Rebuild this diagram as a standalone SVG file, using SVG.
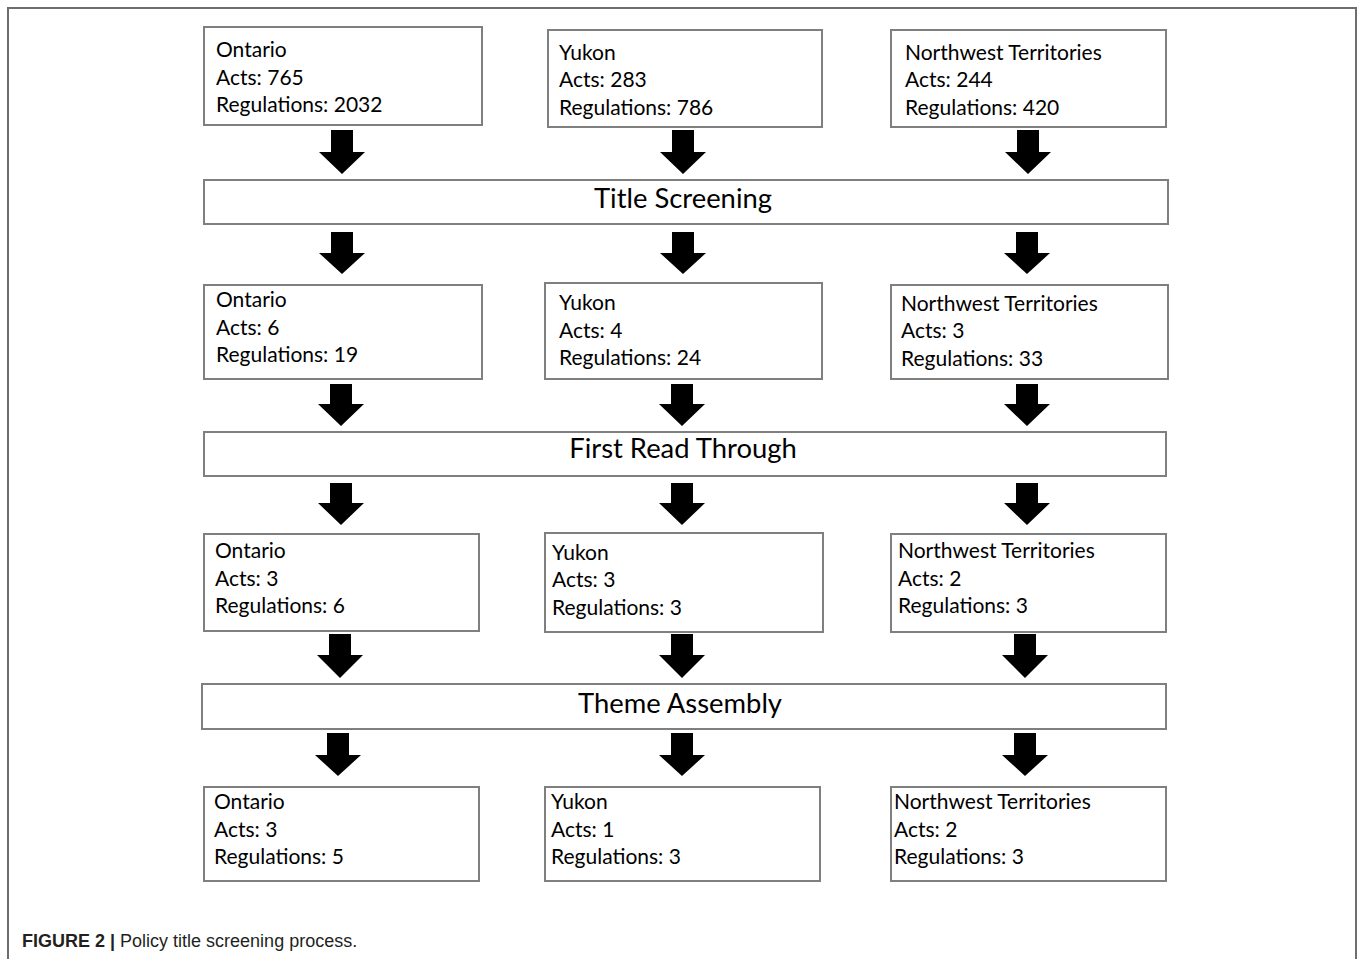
<svg xmlns="http://www.w3.org/2000/svg" width="1358" height="959" viewBox="0 0 1358 959">
<style>
.frame{fill:none;stroke:#6d6d6d;stroke-width:2}
.box{fill:#fff;stroke:#7f7f7f;stroke-width:2}
.t{font-family:Lato,"Open Sans",sans-serif;font-size:21px;fill:#000}
.h{font-family:Lato,"Open Sans",sans-serif;font-size:27.4px;fill:#000;text-anchor:middle}
.arr{fill:#000}
.cap{font-family:"Liberation Sans",Arial,sans-serif;font-size:18px;fill:#231f20}
</style>
<rect width="1358" height="959" fill="#fff"/>
<path class="frame" d="M8,960 V8 H1356 V960"/>

<g id="connectors">
<path class="arr" d="M331,130 H353 V152 H365 L342,174 L319,152 H331 Z"/>
<path class="arr" d="M672,130 H694 V152 H706 L683,174 L660,152 H672 Z"/>
<path class="arr" d="M1017,130 H1039 V152 H1051 L1028,174 L1005,152 H1017 Z"/>

<path class="arr" d="M331,232 H353 V253 H365 L342,274 L319,253 H331 Z"/>
<path class="arr" d="M672,232 H694 V253 H706 L683,274 L660,253 H672 Z"/>
<path class="arr" d="M1016,232 H1038 V253 H1050 L1027,274 L1004,253 H1016 Z"/>

<path class="arr" d="M330,384 H352 V404 H364 L341,426 L318,404 H330 Z"/>
<path class="arr" d="M671,384 H693 V404 H705 L682,426 L659,404 H671 Z"/>
<path class="arr" d="M1016,384 H1038 V404 H1050 L1027,426 L1004,404 H1016 Z"/>

<path class="arr" d="M330,483 H352 V503 H364 L341,525 L318,503 H330 Z"/>
<path class="arr" d="M671,483 H693 V503 H705 L682,525 L659,503 H671 Z"/>
<path class="arr" d="M1016,483 H1038 V503 H1050 L1027,525 L1004,503 H1016 Z"/>

<path class="arr" d="M329,634 H351 V655 H363 L340,678 L317,655 H329 Z"/>
<path class="arr" d="M671,634 H693 V655 H705 L682,678 L659,655 H671 Z"/>
<path class="arr" d="M1014,634 H1036 V655 H1048 L1025,678 L1002,655 H1014 Z"/>

<path class="arr" d="M327,733 H349 V755 H361 L338,776 L315,755 H327 Z"/>
<path class="arr" d="M671,733 H693 V755 H705 L682,776 L659,755 H671 Z"/>
<path class="arr" d="M1014,733 H1036 V755 H1048 L1025,776 L1002,755 H1014 Z"/>
</g>

<g id="on1"><rect class="box" x="204" y="27" width="278" height="98"/>
<text class="t" x="216" y="57">Ontario</text><text class="t" x="216" y="85">Acts: 765</text><text class="t" x="216" y="112">Regulations: 2032</text></g>
<g id="yk1"><rect class="box" x="548" y="30" width="274" height="97"/>
<text class="t" x="559" y="60">Yukon</text><text class="t" x="559" y="87">Acts: 283</text><text class="t" x="559" y="115">Regulations: 786</text></g>
<g id="nw1"><rect class="box" x="891" y="30" width="275" height="97"/>
<text class="t" x="905" y="60">Northwest Territories</text><text class="t" x="905" y="87">Acts: 244</text><text class="t" x="905" y="115">Regulations: 420</text></g>

<g id="title-screening"><rect class="box" x="204" y="180" width="964" height="44"/>
<text class="h" x="683" y="208">Title Screening</text></g>

<g id="on2"><rect class="box" x="204" y="285" width="278" height="94"/>
<text class="t" x="216" y="307">Ontario</text><text class="t" x="216" y="335">Acts: 6</text><text class="t" x="216" y="362">Regulations: 19</text></g>
<g id="yk2"><rect class="box" x="545" y="283" width="277" height="96"/>
<text class="t" x="559" y="310">Yukon</text><text class="t" x="559" y="338">Acts: 4</text><text class="t" x="559" y="365">Regulations: 24</text></g>
<g id="nw2"><rect class="box" x="891" y="285" width="277" height="94"/>
<text class="t" x="901" y="311">Northwest Territories</text><text class="t" x="901" y="338">Acts: 3</text><text class="t" x="901" y="366">Regulations: 33</text></g>

<g id="first-read"><rect class="box" x="204" y="432" width="962" height="44"/>
<text class="h" x="683" y="458">First Read Through</text></g>

<g id="on3"><rect class="box" x="204" y="534" width="275" height="97"/>
<text class="t" x="215" y="558">Ontario</text><text class="t" x="215" y="586">Acts: 3</text><text class="t" x="215" y="613">Regulations: 6</text></g>
<g id="yk3"><rect class="box" x="545" y="533" width="278" height="99"/>
<text class="t" x="552" y="560">Yukon</text><text class="t" x="552" y="587">Acts: 3</text><text class="t" x="552" y="615">Regulations: 3</text></g>
<g id="nw3"><rect class="box" x="891" y="534" width="275" height="98"/>
<text class="t" x="898" y="558">Northwest Territories</text><text class="t" x="898" y="586">Acts: 2</text><text class="t" x="898" y="613">Regulations: 3</text></g>

<g id="theme-assembly"><rect class="box" x="202" y="684" width="964" height="45"/>
<text class="h" x="680" y="713">Theme Assembly</text></g>

<g id="on4"><rect class="box" x="204" y="787" width="275" height="94"/>
<text class="t" x="214" y="809">Ontario</text><text class="t" x="214" y="837">Acts: 3</text><text class="t" x="214" y="864">Regulations: 5</text></g>
<g id="yk4"><rect class="box" x="545" y="787" width="275" height="94"/>
<text class="t" x="551" y="809">Yukon</text><text class="t" x="551" y="837">Acts: 1</text><text class="t" x="551" y="864">Regulations: 3</text></g>
<g id="nw4"><rect class="box" x="891" y="787" width="275" height="94"/>
<text class="t" x="894" y="809">Northwest Territories</text><text class="t" x="894" y="837">Acts: 2</text><text class="t" x="894" y="864">Regulations: 3</text></g>

<text class="cap" x="22" y="947"><tspan font-weight="bold">FIGURE 2 |</tspan> Policy title screening process.</text>
</svg>
